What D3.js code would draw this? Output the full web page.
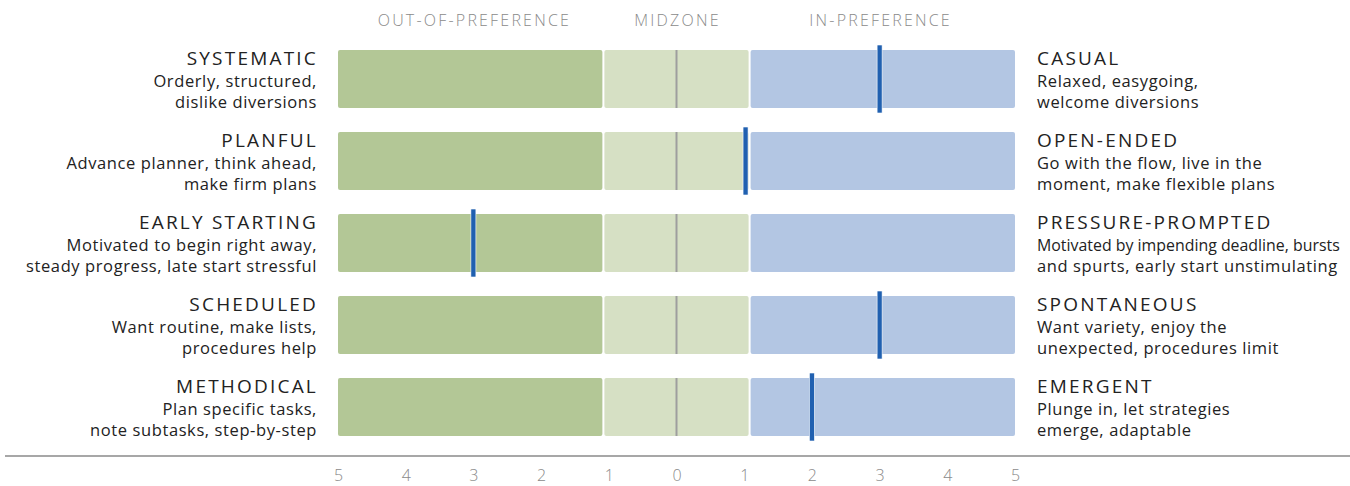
<!DOCTYPE html>
<html>
<head>
<meta charset="utf-8">
<script src="https://cdn.jsdelivr.net/npm/d3@7"></script>
<style>
  body { margin: 0; background: #fff; }
  text { font-family: "Open Sans", Lato, sans-serif; }
</style>
</head>
<body>
<script>
// Preference bars: each row is a scale from one pole to the other.
var leftTitles = ['SYSTEMATIC', 'PLANFUL', 'EARLY STARTING', 'SCHEDULED', 'METHODICAL'];
var leftLines = [
  ['Orderly, structured,', 'dislike diversions'],
  ['Advance planner, think ahead,', 'make firm plans'],
  ['Motivated to begin right away,', 'steady progress, late start stressful'],
  ['Want routine, make lists,', 'procedures help'],
  ['Plan specific tasks,', 'note subtasks, step-by-step']
];
var rightTitles = ['CASUAL', 'OPEN-ENDED', 'PRESSURE-PROMPTED', 'SPONTANEOUS', 'EMERGENT'];
var rightLines = [
  ['Relaxed, easygoing,', 'welcome diversions'],
  ['Go with the flow, live in the', 'moment, make flexible plans'],
  ['Motivated by impending deadline, bursts', 'and spurts, early start unstimulating'],
  ['Want variety, enjoy the', 'unexpected, procedures limit'],
  ['Plunge in, let strategies', 'emerge, adaptable']
];
var scores = [3, 1.02, -3, 3, 2];
var tickValues = [-5, -4, -3, -2, -1, 0, 1, 2, 3, 4, 5];
var zoneNames = ['OUT-OF-PREFERENCE', 'MIDZONE', 'IN-PREFERENCE'];
var zoneCenters = [-3, 0, 3];
var zones = [[-5, -1.08], [-1.08, 1.08], [1.08, 5]];

var width = 1350, height = 486;
var colors = ['#b3c796', '#d6e0c4', '#b3c6e3'];
var maxRight = 1340;

var svg = d3.select('body').append('svg')
  .attr('width', width)
  .attr('height', height);

var x = d3.scaleLinear().domain([-5, 5]).range([338, 1015]);
var y = d3.scaleBand().domain(d3.range(leftTitles.length))
  .range([50, 436]).paddingInner(24 / 82).paddingOuter(0);

// Zone headers
svg.selectAll('.zone')
  .data(zoneNames)
  .enter().append('text')
  .attr('x', function (d, i) { return x(zoneCenters[i]) + 1; })
  .attr('y', 26)
  .attr('text-anchor', 'middle')
  .attr('fill', '#8a8a8a')
  .attr('font-size', 16)
  .attr('font-weight', 300)
  .attr('letter-spacing', 2.2)
  .text(function (d) { return d; });

var rows = svg.selectAll('.row')
  .data(scores)
  .enter().append('g')
  .attr('transform', function (d, i) { return 'translate(0,' + y(i) + ')'; });

var bh = y.bandwidth();

// Zone segments
rows.selectAll('rect.seg')
  .data(zones)
  .enter().append('rect')
  .attr('x', function (d) { return x(d[0]) + (d[0] > -5 ? 1 : 0); })
  .attr('width', function (d) { return x(d[1]) - x(d[0]) - (d[0] > -5 ? 1 : 0) - (d[1] < 5 ? 1 : 0); })
  .attr('y', 0)
  .attr('height', bh)
  .attr('rx', 2)
  .attr('fill', function (d, i) { return colors[i]; });

// Midline
rows.append('line')
  .attr('x1', x(0)).attr('x2', x(0))
  .attr('y1', 0).attr('y2', bh)
  .attr('stroke', '#9e9e9e')
  .attr('stroke-width', 2);

// Score markers
rows.append('rect')
  .attr('x', function (d) { return x(d) - 2.5; })
  .attr('y', -5)
  .attr('width', 5)
  .attr('height', bh + 10)
  .attr('fill', '#2060b0')
  .attr('stroke', '#ffffff')
  .attr('stroke-width', 0.6);

function addText(g, tx, ty, anchor, size, spacing, t) {
  return g.append('text')
    .attr('x', tx).attr('y', ty)
    .attr('text-anchor', anchor)
    .attr('fill', '#222')
    .attr('font-size', size)
    .attr('letter-spacing', spacing)
    .text(t);
}

rows.each(function (d, i) {
  var g = d3.select(this);
  addText(g, 318, 15, 'end', 19, 2.2, leftTitles[i]);
  leftLines[i].forEach(function (t, j) {
    addText(g, 317, 37 + j * 21, 'end', 16.5, 0.6, t);
  });
  addText(g, 1037, 15, 'start', 19, 2.2, rightTitles[i]);
  rightLines[i].forEach(function (t, j) {
    var el = addText(g, 1037, 37 + j * 21, 'start', 16.5, 0.6, t);
    // tighten lines that would run off the page
    var len = el.node().getComputedTextLength();
    if (len > maxRight - 1037) {
      el.attr('letter-spacing', 0);
      len = el.node().getComputedTextLength();
      if (len > maxRight - 1037) {
        el.attr('font-size', 16.5 * (maxRight - 1037) / len);
      }
    }
  });
});

// Bottom axis
svg.append('line')
  .attr('x1', 5).attr('x2', width)
  .attr('y1', 456).attr('y2', 456)
  .attr('stroke', '#8a8a8a')
  .attr('stroke-width', 1.5);

var axis = d3.axisBottom(x)
  .tickValues(tickValues)
  .tickSize(0)
  .tickPadding(0)
  .tickFormat(function (d) { return Math.abs(d); });

svg.append('g')
  .attr('transform', 'translate(0,470)')
  .call(axis)
  .call(function (g) { g.select('.domain').remove(); })
  .selectAll('text')
  .attr('fill', '#8a8a8a')
  .attr('font-size', 16)
  .attr('font-weight', 300)
  .attr('font-family', '"Open Sans", sans-serif');
</script>
</body>
</html>
